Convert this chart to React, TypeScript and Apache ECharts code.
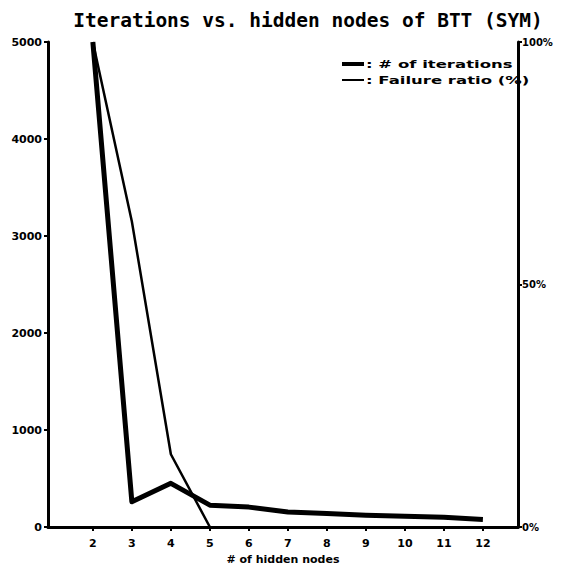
import React, { useEffect, useRef } from "react";
import * as echarts from "echarts";

const titleText = "Iterations vs. hidden nodes of BTT (SYM)";
const xAxisName = "# of hidden nodes";
const hiddenNodes = [2, 3, 4, 5, 6, 7, 8, 9, 10, 11, 12];
const iterations = [5000, 260, 450, 225, 205, 155, 140, 122, 110, 100, 78];
const failureNodes = [2, 3, 4, 5];
const failureRatio = [100, 63, 15, 0];
const xTicks = [2, 3, 4, 5, 6, 7, 8, 9, 10, 11, 12];
const seriesNames = ["# of iterations", "Failure ratio (%)"];

const labelFont = {
  fontFamily: "DejaVu Sans",
  fontWeight: "bold" as const,
  fontSize: 11,
  color: "#000",
};

export default function App() {
  const ref = useRef<HTMLDivElement>(null);
  useEffect(() => {
    if (!ref.current) return;
    const chart = echarts.init(ref.current, null, { renderer: "svg" });
    const axisLine = { show: true, lineStyle: { color: "#000", width: 3 } };
    chart.setOption({
      animation: false,
      backgroundColor: "#fff",
      title: {
        text: titleText,
        left: 303,
        textAlign: "center",
        top: 5,
        textStyle: {
          fontFamily: "DejaVu Sans Mono",
          fontWeight: "bold",
          fontSize: 19.5,
          color: "#000",
        },
      },
      grid: { left: 48, top: 42, width: 470, height: 485, outerBoundsMode: "none", containLabel: false },
      xAxis: {
        type: "value",
        min: 0.85,
        max: 12.9,
        name: xAxisName,
        nameLocation: "middle",
        nameGap: 26,
        nameTextStyle: { ...labelFont, fontSize: 11 },
        axisLine,
        splitLine: { show: false },
        axisTick: {
          show: true,
          customValues: xTicks,
          length: 4,
          lineStyle: { color: "#000", width: 2 },
        },
        axisLabel: { ...labelFont, customValues: xTicks, margin: 11 },
      },
      yAxis: [
        {
          type: "value",
          min: 0,
          max: 5000,
          interval: 1000,
          position: "left",
          axisLine,
          splitLine: { show: false },
          axisTick: { show: true, length: 4, lineStyle: { color: "#000", width: 2 } },
          axisLabel: { ...labelFont, margin: 6, formatter: (v: number) => String(v) },
        },
        {
          type: "value",
          min: 0,
          max: 100,
          interval: 50,
          position: "right",
          axisLine,
          splitLine: { show: false },
          axisTick: { show: true, length: 4, lineStyle: { color: "#000", width: 2 } },
          axisLabel: { ...labelFont, fontSize: 10, margin: 4, formatter: "{value}%" },
        },
      ],
      series: [
        {
          name: seriesNames[0],
          type: "line",
          yAxisIndex: 0,
          data: hiddenNodes.map((x, i) => [x, iterations[i]]),
          showSymbol: false,
          clip: false,
          lineStyle: { color: "#000", width: 5, join: "round" },
          z: 5,
        },
        {
          name: seriesNames[1],
          type: "line",
          yAxisIndex: 1,
          data: failureNodes.map((x, i) => [x, failureRatio[i]]),
          showSymbol: false,
          clip: false,
          lineStyle: { color: "#000", width: 2.5 },
          z: 4,
        },
      ],
      graphic: [
        {
          type: "line",
          shape: { x1: 342, y1: 64, x2: 364, y2: 64 },
          style: { stroke: "#000", lineWidth: 4 },
        },
        {
          type: "text",
          x: 366,
          y: 64,
          scaleX: 1.5,
          style: {
            text: ": " + seriesNames[0],
            fill: "#000",
            font: "bold 11px 'DejaVu Sans'",
            verticalAlign: "middle",
          },
        },
        {
          type: "line",
          shape: { x1: 342, y1: 80, x2: 364, y2: 80 },
          style: { stroke: "#000", lineWidth: 2 },
        },
        {
          type: "text",
          x: 366,
          y: 80,
          scaleX: 1.5,
          style: {
            text: ": " + seriesNames[1],
            fill: "#000",
            font: "bold 11px 'DejaVu Sans'",
            verticalAlign: "middle",
          },
        },
      ],
    });
    return () => chart.dispose();
  }, []);
  return <div ref={ref} style={{ width: 585, height: 567, position: "absolute", left: 0, top: 0 }} />;
}
